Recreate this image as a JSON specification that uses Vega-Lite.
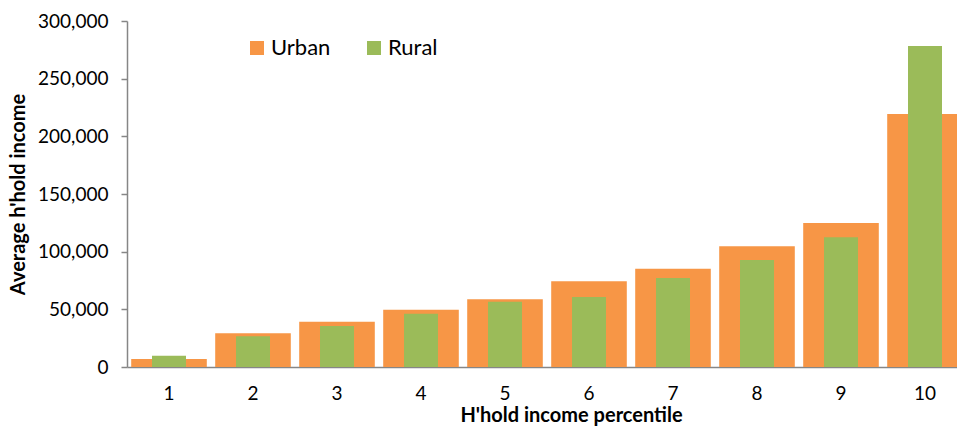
{
  "$schema": "https://vega.github.io/schema/vega-lite/v6.json",
  "autosize": {"type": "none"},
  "padding": {"left": 127, "top": 21, "right": 0, "bottom": 59},
  "width": 840,
  "height": 346,
  "config": {
    "view": {"stroke": null},
    "font": "Lato",
    "axis": {"grid": false, "domainColor": "#868686", "tickColor": "#868686", "domainWidth": 1.5, "tickWidth": 1.5, "labelColor": "#000000", "titleColor": "#000000", "labelFont": "Lato", "titleFont": "Lato"}
  },
  "data": {
    "values": [
      {"percentile": "1", "area": "Urban", "income": 6900},
      {"percentile": "2", "area": "Urban", "income": 29200},
      {"percentile": "3", "area": "Urban", "income": 39300},
      {"percentile": "4", "area": "Urban", "income": 49700},
      {"percentile": "5", "area": "Urban", "income": 58700},
      {"percentile": "6", "area": "Urban", "income": 74300},
      {"percentile": "7", "area": "Urban", "income": 85200},
      {"percentile": "8", "area": "Urban", "income": 104600},
      {"percentile": "9", "area": "Urban", "income": 124800},
      {"percentile": "10", "area": "Urban", "income": 219300},
      {"percentile": "1", "area": "Rural", "income": 9800},
      {"percentile": "2", "area": "Rural", "income": 26600},
      {"percentile": "3", "area": "Rural", "income": 35500},
      {"percentile": "4", "area": "Rural", "income": 46200},
      {"percentile": "5", "area": "Rural", "income": 56600},
      {"percentile": "6", "area": "Rural", "income": 60700},
      {"percentile": "7", "area": "Rural", "income": 77200},
      {"percentile": "8", "area": "Rural", "income": 92800},
      {"percentile": "9", "area": "Rural", "income": 112400},
      {"percentile": "10", "area": "Rural", "income": 278300}
    ]
  },
  "encoding": {
    "x": {
      "field": "percentile", "type": "ordinal", "sort": ["1","2","3","4","5","6","7","8","9","10"],
      "scale": {"paddingInner": 0.1, "paddingOuter": 0.05},
      "axis": {"labelAngle": 0, "ticks": false, "labelPadding": 17, "labelFontSize": 19, "title": "H'hold income percentile", "titleFontSize": 20, "titleFontWeight": "bold", "titleX": 444, "titleY": 48, "titleBaseline": "middle", "titleAlign": "center"}
    },
    "y": {
      "field": "income", "type": "quantitative",
      "scale": {"domain": [0, 300000], "nice": false},
      "axis": {"values": [0, 50000, 100000, 150000, 200000, 250000, 300000], "format": ",.0f", "tickSize": 6, "labelPadding": 13, "labelFontSize": 19, "title": "Average h'hold income", "titleFontSize": 20, "titleFontWeight": "bold", "titleX": -109, "titleY": 173, "titleAngle": -90, "titleAlign": "center", "titleBaseline": "middle"}
    },
    "color": {
      "field": "area", "type": "nominal",
      "scale": {"domain": ["Urban", "Rural"], "range": ["#F79646", "#9BBB59"]},
      "legend": {"title": null, "orient": "none", "legendX": 119, "legendY": 16, "direction": "horizontal", "symbolType": "square", "symbolSize": 196, "symbolOpacity": 1, "symbolStrokeWidth": 0, "labelFontSize": 22, "labelFont": "Lato", "columnPadding": 32, "labelOffset": 3}
    }
  },
  "layer": [
    {
      "transform": [{"filter": "datum.area === 'Urban'"}],
      "mark": {"type": "bar", "opacity": 1}
    },
    {
      "transform": [{"filter": "datum.area === 'Rural'"}],
      "mark": {"type": "bar", "size": 34, "opacity": 1}
    }
  ]
}
